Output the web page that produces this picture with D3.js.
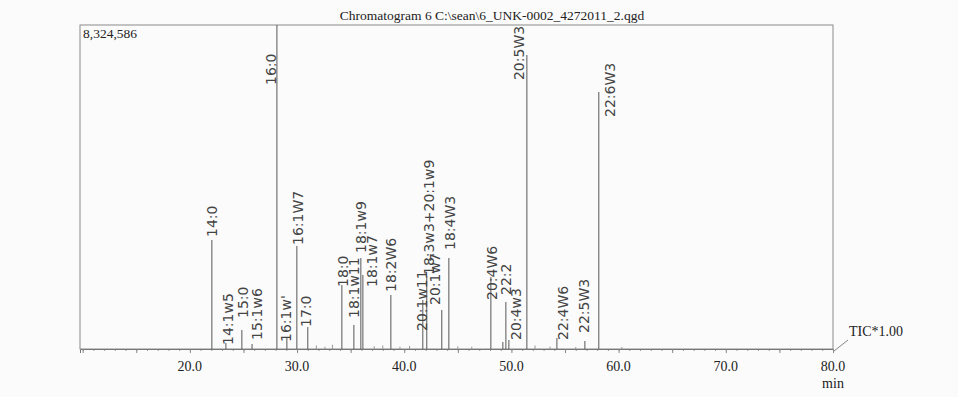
<!DOCTYPE html>
<html>
<head>
<meta charset="utf-8">
<script src="https://cdn.jsdelivr.net/npm/d3@7"></script>
<style>
  body { margin: 0; background: #fbfbfb; }
  svg { display: block; }
  .serif { font-family: "Liberation Serif", "Times New Roman", serif; fill: #222; }
  .hand { font-family: "DejaVu Sans", sans-serif; fill: #444; font-size: 14px; }
</style>
</head>
<body>
<div id="chart"></div>
<script>
// peak retention times (min), intensities (counts) and hand-written names
var peakTimes  = [22.05, 23.36, 24.85, 25.8, 28.12, 29.05, 29.98, 31.0, 34.18, 35.3, 35.95, 36.14,
                  38.75, 41.73, 42.1, 43.5, 44.16, 48.08, 49.2, 49.48, 49.76, 51.44, 54.24, 56.85, 58.15];
var peakValues = [2800000, 154000, 488000, 128000, 8324586, 283000, 2646000, 565000, 1644000, 617000, 2338000, 1901000,
                  1387000, 1259000, 1876000, 1002000, 2338000, 1850000, 180000, 1208000, 231000, 7554000, 283000, 206000, 6603000];

// small unlabelled bumps along the baseline
var minorTimes  = [31.8, 32.6, 33.3, 37.2, 38.0, 39.6, 40.5, 45.0, 46.3, 52.2, 53.6, 56.0, 60.3];
var minorValues = [90000, 60000, 110000, 70000, 90000, 60000, 80000, 70000, 60000, 90000, 60000, 50000, 50000];

// hand-written annotations: name, where the text starts (time, level)
var labelNames  = ["14:0", "14:1w5", "15:0", "15:1w6", "16:0", "16:1w'", "16:1W7", "17:0", "18:0", "18:1w11",
                   "18:1w9", "18:1w7", "18:2W6", "20:1w11", "18:3w3+20:1w9", "20:1w7", "18:4W3", "20:4W6",
                   "22:2", "20:4w3", "20:5W3", "22:4W6", "22:5W3", "22:6W3"];
var labelTimes  = [22.05, 23.54, 24.94, 26.25, 27.56, 28.96, 30.07, 30.82, 34.27, 35.3,
                   35.95, 36.98, 38.75, 41.64, 42.29, 42.85, 44.25, 48.17,
                   49.48, 50.41, 50.75, 54.79, 56.75, 59.18];
var labelLevels = [2878000, 103000, 796000, 231000, 6783000, 180000, 2672000, 565000, 1593000, 796000,
                   2467000, 1593000, 1464000, 462000, 1901000, 1131000, 2544000, 1259000,
                   1387000, 231000, 6910000, 231000, 411000, 5961000];

var xTicks = [20, 30, 40, 50, 60, 70, 80];
var maxValue = 8324586;
var title = "Chromatogram 6 C:\\sean\\6_UNK-0002_4272011_2.qgd";

var width = 958, height = 397;
var margin = { top: 25, right: 125, bottom: 48, left: 80 };

var svg = d3.select("#chart").append("svg")
    .attr("width", width)
    .attr("height", height);

var x = d3.scaleLinear().domain([9.75, 80]).range([margin.left, width - margin.right]);
var y = d3.scaleLinear().domain([0, maxValue]).range([height - margin.bottom, margin.top]);

// frame
svg.append("rect")
    .attr("x", x(9.75)).attr("y", y(maxValue))
    .attr("width", x(80) - x(9.75)).attr("height", y(0) - y(maxValue))
    .attr("fill", "none").attr("stroke", "#8a8a8a").attr("stroke-width", 1);

// minor and major ticks on the time axis
svg.append("g")
    .attr("transform", "translate(0," + y(0) + ")")
    .call(d3.axisBottom(x).tickValues(d3.range(10, 81, 1)).tickSize(2).tickFormat(""))
    .call(function(g) { g.select(".domain").remove(); g.selectAll("line").attr("stroke", "#999"); });
svg.append("g")
    .attr("transform", "translate(0," + y(0) + ")")
    .call(d3.axisBottom(x).tickValues(d3.range(10, 81, 5)).tickSize(4).tickFormat(""))
    .call(function(g) { g.select(".domain").attr("stroke", "#777"); g.selectAll("line").attr("stroke", "#888"); });

// tick labels
svg.append("g").selectAll("text")
    .data(xTicks).enter().append("text")
    .attr("class", "serif")
    .attr("x", function(d) { return x(d); })
    .attr("y", y(0) + 22)
    .attr("text-anchor", "middle")
    .style("font-size", "14px")
    .text(function(d) { return d3.format(".1f")(d); });

svg.append("text").attr("class", "serif")
    .attr("x", x(80)).attr("y", y(0) + 39)
    .attr("text-anchor", "middle").style("font-size", "14px")
    .text("min");

// title and max value
svg.append("text").attr("class", "serif")
    .attr("x", 492).attr("y", 20)
    .attr("text-anchor", "middle").style("font-size", "13.5px")
    .text(title);

svg.append("text").attr("class", "serif")
    .attr("x", x(9.75) + 3).attr("y", y(maxValue) + 13)
    .style("font-size", "13.5px")
    .text(d3.format(",")(maxValue));

// TIC label with leader
svg.append("line")
    .attr("x1", x(80) + 1).attr("y1", y(0) + 2)
    .attr("x2", x(80) + 15).attr("y2", y(0) - 9)
    .attr("stroke", "#666").attr("stroke-width", 0.8);
svg.append("text").attr("class", "serif")
    .attr("x", x(80) + 16).attr("y", y(0) - 13)
    .style("font-size", "14px")
    .text("TIC*1.00");

// baseline bumps
svg.append("g").selectAll("line")
    .data(minorTimes).enter().append("line")
    .attr("x1", function(d) { return x(d); })
    .attr("x2", function(d) { return x(d); })
    .attr("y1", y(0))
    .attr("y2", function(d, i) { return y(minorValues[i]); })
    .attr("stroke", "#999").attr("stroke-width", 1);

// peaks
svg.append("g").selectAll("line")
    .data(peakTimes).enter().append("line")
    .attr("x1", function(d) { return x(d); })
    .attr("x2", function(d) { return x(d); })
    .attr("y1", y(0))
    .attr("y2", function(d, i) { return y(peakValues[i]); })
    .attr("stroke", "#666").attr("stroke-width", 1.1);

// hand-written labels, reading bottom to top
svg.append("g").selectAll("text")
    .data(labelNames).enter().append("text")
    .attr("class", "hand")
    .attr("transform", function(d, i) {
        return "translate(" + x(labelTimes[i]) + "," + y(labelLevels[i]) + ") rotate(-90)";
    })
    .attr("dy", "0.35em")
    .text(function(d) { return d; });
</script>
</body>
</html>
